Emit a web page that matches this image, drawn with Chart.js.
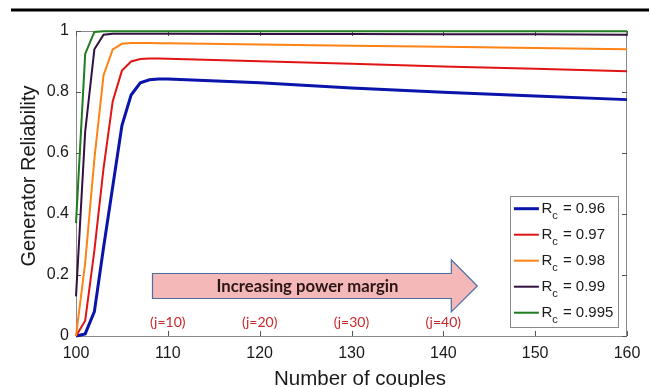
<!DOCTYPE html>
<html>
<head>
<meta charset="utf-8">
<script src="https://cdn.jsdelivr.net/npm/chart.js@4.4.1/dist/chart.umd.min.js"></script>
<style>
  html, body { margin: 0; padding: 0; background: #fff; }
  #wrap { width: 651px; height: 387px; position: relative; }
</style>
</head>
<body>
<div id="wrap"><canvas id="c" width="651" height="387"></canvas></div>
<script>
// ---- data ----
const couples = [100, 101, 102, 103, 104, 105, 106, 107, 108, 109, 110, 120, 130, 140, 150, 160];
const rel096  = [0, 0.007, 0.08, 0.29, 0.49, 0.69, 0.79, 0.83, 0.84, 0.843, 0.843, 0.83, 0.813, 0.799, 0.787, 0.775];
const rel097  = [0, 0.05, 0.28, 0.55, 0.77, 0.87, 0.90, 0.908, 0.91, 0.91, 0.909, 0.901, 0.893, 0.884, 0.876, 0.868];
const rel098  = [0, 0.24, 0.58, 0.855, 0.94, 0.958, 0.961, 0.961, 0.961, 0.96, 0.96, 0.956, 0.952, 0.948, 0.944, 0.94];
const rel099  = [0.13, 0.67, 0.94, 0.988, 0.991, 0.991, 0.991, 0.991, 0.991, 0.991, 0.991, 0.990, 0.990, 0.989, 0.989, 0.988];
const rel0995 = [0.37, 0.925, 0.997, 0.999, 0.999, 0.999, 0.999, 0.999, 0.999, 0.999, 0.999, 0.999, 0.999, 0.999, 0.999, 0.999];
const rcValues = ['0.96', '0.97', '0.98', '0.99', '0.995'];
const xTickLabels = ['100', '110', '120', '130', '140', '150', '160'];
const yTickLabels = ['0', '0.2', '0.4', '0.6', '0.8', '1'];
const jLabels = ['(j=10)', '(j=20)', '(j=30)', '(j=40)'];
const jPositions = [110, 120, 130, 140];
const arrowText = 'Increasing power margin';

// ---- styles ----
const seriesColors = ['#0a14aa', '#e01414', '#ff8214', '#331040', '#1e7d1e'];
const seriesWidths = [3, 2, 2, 2, 2];
const FONT = '"Liberation Sans", Arial, Helvetica, sans-serif';

const series = [rel096, rel097, rel098, rel099, rel0995];
const datasets = series.map((vals, i) => ({
  label: 'R_c = ' + rcValues[i],
  data: vals.map((v, k) => ({ x: couples[k], y: v })),
  borderColor: seriesColors[i],
  backgroundColor: seriesColors[i],
  borderWidth: seriesWidths[i],
  pointRadius: 0,
  tension: 0,
  clip: 4,
  order: 5 - i
}));

const decor = {
  id: 'decor',
  beforeDatasetsDraw(chart) {
    const ctx = chart.ctx, a = chart.chartArea;
    const xs = chart.scales.x, ys = chart.scales.y;
    ctx.save();
    ctx.strokeStyle = '#8a8a8a';
    ctx.lineWidth = 1;
    ctx.strokeRect(a.left + 0.5, a.top + 0.5, a.right - a.left - 1, a.bottom - a.top);
    ctx.strokeStyle = '#555';
    const tl = 5;
    ctx.beginPath();
    xs.ticks.forEach(t => {
      const px = Math.round(xs.getPixelForValue(t.value)) + 0.5;
      ctx.moveTo(px, a.bottom); ctx.lineTo(px, a.bottom - tl);
      ctx.moveTo(px, a.top); ctx.lineTo(px, a.top + tl);
    });
    ys.ticks.forEach(t => {
      const py = Math.round(ys.getPixelForValue(t.value)) + 0.5;
      ctx.moveTo(a.left, py); ctx.lineTo(a.left + tl, py);
      ctx.moveTo(a.right, py); ctx.lineTo(a.right - tl, py);
    });
    ctx.stroke();
    ctx.restore();
  },
  afterDraw(chart) {
    const ctx = chart.ctx, a = chart.chartArea;
    const xs = chart.scales.x, ys = chart.scales.y;
    ctx.save();
    // top rule
    ctx.strokeStyle = '#000';
    ctx.lineWidth = 3;
    ctx.beginPath(); ctx.moveTo(11, 10); ctx.lineTo(649, 10); ctx.stroke();

    // axis titles
    ctx.fillStyle = '#1a1a1a';
    ctx.font = '20.5px ' + FONT;
    ctx.textAlign = 'center';
    ctx.textBaseline = 'alphabetic';
    ctx.fillText('Number of couples', 360, 385);
    ctx.font = '20px ' + FONT;
    ctx.save();
    ctx.translate(35, 176);
    ctx.rotate(-Math.PI / 2);
    ctx.fillText('Generator Reliability', 0, 0);
    ctx.restore();

    // arrow annotation (in data coordinates)
    const ax0 = xs.getPixelForValue(108.33), ax1 = xs.getPixelForValue(140.87), ax2 = xs.getPixelForValue(143.7);
    const by0 = ys.getPixelForValue(0.205), by1 = ys.getPixelForValue(0.123);
    const hy0 = ys.getPixelForValue(0.25), hy1 = ys.getPixelForValue(0.079);
    const ty = (by0 + by1) / 2;
    ctx.beginPath();
    ctx.moveTo(ax0, by0); ctx.lineTo(ax1, by0); ctx.lineTo(ax1, hy0);
    ctx.lineTo(ax2, ty); ctx.lineTo(ax1, hy1); ctx.lineTo(ax1, by1);
    ctx.lineTo(ax0, by1); ctx.closePath();
    ctx.fillStyle = '#f5b8b8';
    ctx.fill();
    ctx.strokeStyle = '#4a6fa5';
    ctx.lineWidth = 1.2;
    ctx.stroke();
    ctx.fillStyle = '#2a1616';
    ctx.font = 'bold 16.7px Lato, "Open Sans", sans-serif';
    ctx.textAlign = 'center';
    ctx.textBaseline = 'middle';
    ctx.fillText(arrowText, xs.getPixelForValue(125.2), ty + 1);

    // j labels
    ctx.fillStyle = '#c8282a';
    ctx.font = '14px Lato, "Open Sans", sans-serif';
    jLabels.forEach((s, i) => {
      ctx.fillText(s, xs.getPixelForValue(jPositions[i]), ys.getPixelForValue(0.043));
    });

    // legend
    const lx0 = a.right - 9 - 107.6, lx1 = a.right - 9;
    const ly1 = a.bottom - 9.3, ly0 = ly1 - 131;
    ctx.fillStyle = '#fff';
    ctx.fillRect(lx0, ly0, lx1 - lx0, ly1 - ly0);
    ctx.strokeStyle = '#8a8a8a';
    ctx.lineWidth = 1;
    ctx.strokeRect(Math.round(lx0) + 0.5, Math.round(ly0) + 0.5, Math.round(lx1 - lx0), Math.round(ly1 - ly0));
    chart.data.datasets.forEach((d, i) => {
      const cy = ly0 + 13 + i * 26;
      ctx.strokeStyle = d.borderColor;
      ctx.lineWidth = d.borderWidth;
      ctx.beginPath(); ctx.moveTo(lx0 + 3.5, cy); ctx.lineTo(lx0 + 28.5, cy); ctx.stroke();
      ctx.fillStyle = '#1a1a1a';
      ctx.textAlign = 'left';
      ctx.textBaseline = 'alphabetic';
      ctx.font = '15px ' + FONT;
      ctx.fillText('R', lx0 + 31, cy + 4.5);
      const rw = ctx.measureText('R').width;
      ctx.font = '11px ' + FONT;
      ctx.fillText('c', lx0 + 31 + rw, cy + 10);
      const cw = ctx.measureText('c').width;
      ctx.font = '15px ' + FONT;
      ctx.fillText(' = ' + rcValues[i], lx0 + 32 + rw + cw, cy + 4.5);
    });
    ctx.restore();
  }
};

new Chart(document.getElementById('c'), {
  type: 'line',
  data: { datasets },
  options: {
    responsive: false,
    animation: false,
    events: [],
    layout: { padding: { left: 0, right: 24, top: 31, bottom: 0 } },
    plugins: { legend: { display: false }, tooltip: { enabled: false }, title: { display: false } },
    scales: {
      x: {
        type: 'linear', min: 100, max: 160,
        afterFit: s => { s.height = 51; },
        border: { display: false },
        grid: { display: false, drawTicks: false },
        ticks: {
          stepSize: 10, autoSkip: false, maxRotation: 0, padding: 8,
          color: '#1a1a1a', font: { family: FONT, size: 16 },
          callback: (v, i) => xTickLabels[i]
        }
      },
      y: {
        type: 'linear', min: 0, max: 1,
        afterFit: s => { s.width = 76; },
        border: { display: false },
        grid: { display: false, drawTicks: false },
        ticks: {
          stepSize: 0.2, autoSkip: false, padding: 7,
          color: '#1a1a1a', font: { family: FONT, size: 16 },
          callback: (v, i) => yTickLabels[i]
        }
      }
    }
  },
  plugins: [decor]
});
</script>
</body>
</html>
